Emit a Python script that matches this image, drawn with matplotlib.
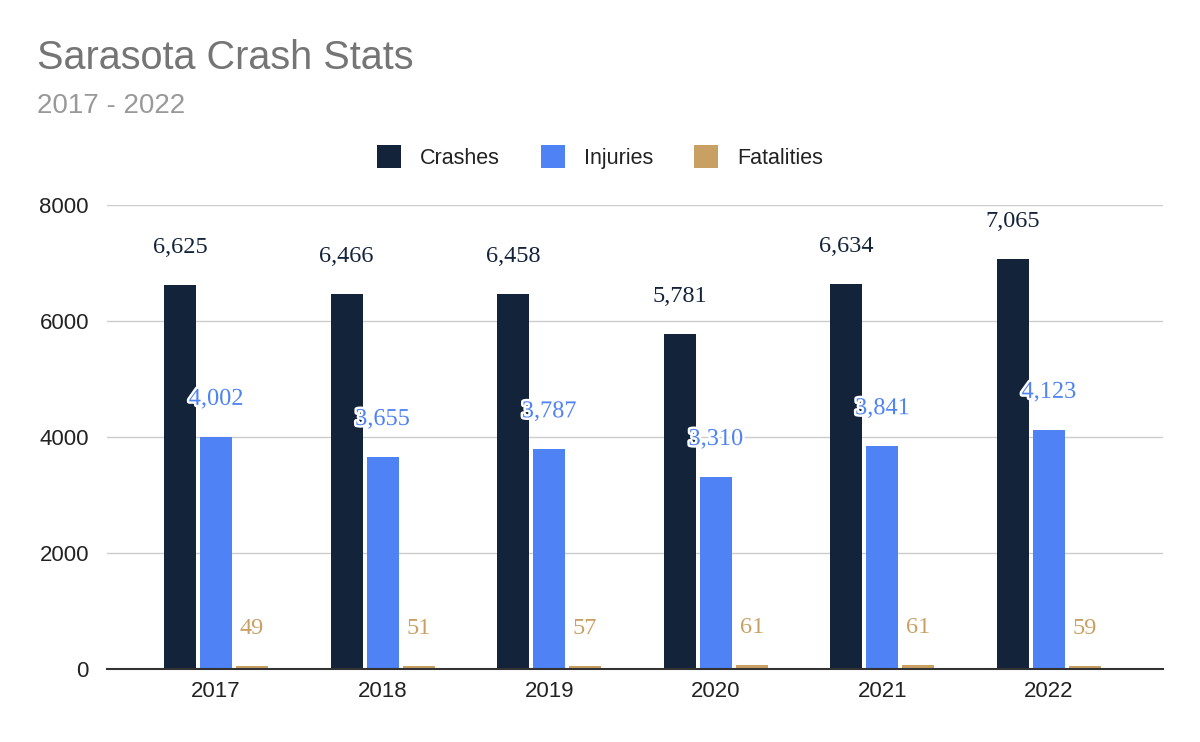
import numpy as np
import matplotlib.pyplot as plt
import matplotlib.patheffects as pe

# data
years = ["2017", "2018", "2019", "2020", "2021", "2022"]
crashes = [6625, 6466, 6458, 5781, 6634, 7065]
injuries = [4002, 3655, 3787, 3310, 3841, 4123]
fatalities = [49, 51, 57, 61, 61, 59]

series_names = ["Crashes", "Injuries", "Fatalities"]
colors = ["#13233A", "#4F83F5", "#C9A063"]

plt.rcParams["font.family"] = ["Liberation Sans", "DejaVu Sans"]

fig = plt.figure(figsize=(12, 7.42), dpi=100)
ax = fig.add_axes([0.0892, 0.0984, 0.8798, 0.6253])

x = np.arange(len(years))
w = 0.192
step = 0.216
for i, (vals, name, c) in enumerate(zip([crashes, injuries, fatalities], series_names, colors)):
    pos = x + (i - 1) * step
    ax.bar(pos, vals, width=w, color=c, label=name, zorder=3)
    for px, v in zip(pos, vals):
        t = ax.annotate(f"{v:,}", (px, v), xytext=(0, 27), textcoords="offset points",
                        ha="center", va="center", fontsize=17.5, color=c,
                        family=["Liberation Serif", "DejaVu Serif"], zorder=5)
        if i == 1:
            t.set_path_effects([pe.withStroke(linewidth=3.5, foreground="white")])

ax.set_xlim(-0.654, 5.684)
ax.set_ylim(0, 8000)
ax.set_yticks([0, 2000, 4000, 6000, 8000])
ax.set_xticks(x)
ax.set_xticklabels(years)
ax.tick_params(axis="both", length=0, labelsize=16, colors="#222222")
ax.tick_params(axis="x", pad=9)
ax.tick_params(axis="y", pad=13)
ax.grid(axis="y", color="#CCCCCC", linewidth=1, zorder=0)
for s in ["top", "right", "left"]:
    ax.spines[s].set_visible(False)
ax.spines["bottom"].set_color("#333333")
ax.spines["bottom"].set_linewidth(1.5)
ax.spines["bottom"].set_zorder(4)

fig.text(0.031, 0.922, "Sarasota Crash Stats", fontsize=28.5, color="#757575", va="center")
fig.text(0.031, 0.857, "2017 - 2022", fontsize=20, color="#999999", va="center")

leg = fig.legend(loc="center", bbox_to_anchor=(0.5, 0.789), ncol=3, frameon=False,
                 fontsize=15.5, handlelength=1.1, handleheight=1.3, columnspacing=1.9,
                 handletextpad=0.9)
for t in leg.get_texts():
    t.set_color("#222222")

fig.savefig("out.png", dpi=100)
